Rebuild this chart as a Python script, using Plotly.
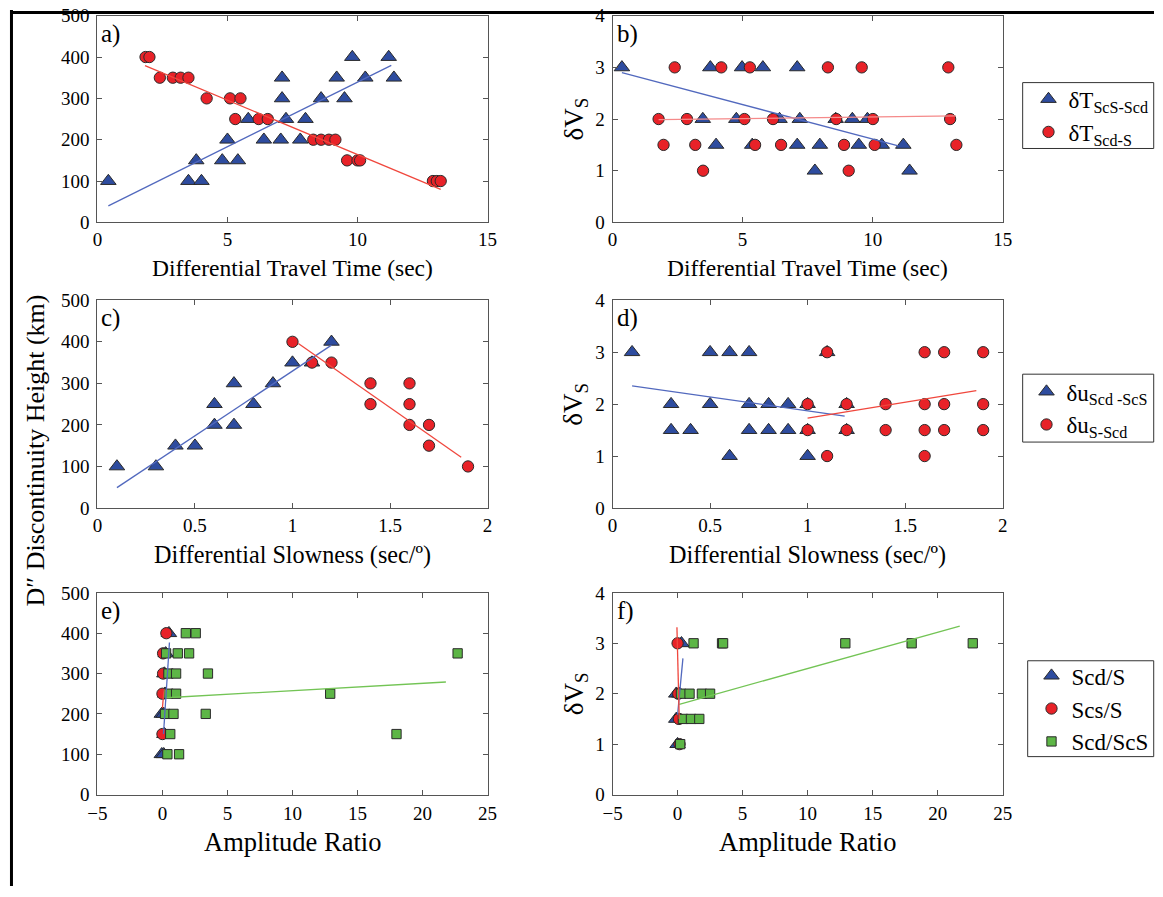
import plotly.graph_objects as go

W, H = 1163, 897
FONT = "Liberation Serif"

# ---------------- data ----------------
# a) height vs differential travel time
a_tri_x = [0.42, 3.5, 4.0, 3.8, 4.8, 5.4, 5.0, 5.8, 6.4, 7.05, 7.8, 7.25, 8.0, 7.1, 7.1, 8.6, 9.5, 9.2, 10.3, 11.4, 9.8, 11.2]
a_tri_y = [100, 100, 100, 150, 150, 150, 200, 250, 200, 200, 200, 250, 250, 300, 350, 300, 300, 350, 350, 350, 400, 400]
a_cir_x = [1.85, 2.0, 2.4, 2.9, 3.2, 3.5, 4.2, 5.1, 5.5, 5.3, 6.2, 6.55, 8.3, 8.6, 8.9, 9.15, 9.6, 10.0, 10.1, 12.9, 13.05, 13.2]
a_cir_y = [400, 400, 350, 350, 350, 350, 300, 300, 300, 250, 250, 250, 200, 200, 200, 200, 150, 150, 150, 100, 100, 100]
a_fit_tri_x = [0.42, 11.3]
a_fit_tri_y = [40, 380]
a_fit_cir_x = [1.83, 13.2]
a_fit_cir_y = [379, 80]

# b) dVs vs differential travel time
b_tri_x = [0.36, 3.76, 4.98, 5.78, 7.1, 3.47, 4.76, 6.42, 7.2, 8.58, 9.22, 9.8, 3.98, 5.37, 7.1, 7.97, 9.47, 10.35, 11.18, 7.78, 11.42]
b_tri_y = [3, 3, 3, 3, 3, 2, 2, 2, 2, 2, 2, 2, 1.5, 1.5, 1.5, 1.5, 1.5, 1.5, 1.5, 1, 1]
b_cir_x = [2.39, 4.18, 5.28, 8.28, 9.58, 12.91, 1.77, 2.86, 5.07, 6.17, 8.6, 10.01, 12.98, 1.96, 3.18, 5.48, 6.48, 8.9, 10.08, 13.22, 3.48, 9.08]
b_cir_y = [3, 3, 3, 3, 3, 3, 2, 2, 2, 2, 2, 2, 2, 1.5, 1.5, 1.5, 1.5, 1.5, 1.5, 1.5, 1, 1]
b_fit_tri_x = [0.36, 10.99]
b_fit_tri_y = [2.9, 1.48]
b_fit_cir_x = [1.77, 13.2]
b_fit_cir_y = [1.99, 2.06]

# c) height vs differential slowness
c_tri_x = [0.1, 0.3, 0.4, 0.5, 0.6, 0.6, 0.7, 0.7, 0.8, 0.9, 1.0, 1.1, 1.2]
c_tri_y = [100, 100, 150, 150, 200, 250, 200, 300, 250, 300, 350, 350, 400]
c_cir_x = [1.0, 1.1, 1.2, 1.4, 1.4, 1.6, 1.6, 1.6, 1.7, 1.7, 1.9]
c_cir_y = [400, 350, 350, 300, 250, 300, 250, 200, 200, 150, 100]
c_fit_tri_x = [0.1, 1.2]
c_fit_tri_y = [49, 392]
c_fit_cir_x = [1.03, 1.865]
c_fit_cir_y = [396, 122]

# d) dVs vs differential slowness
d_tri_x = [0.1, 0.5, 0.6, 0.7, 1.1, 0.3, 0.5, 0.7, 0.8, 0.9, 1.0, 1.2, 0.3, 0.4, 0.7, 0.8, 0.9, 1.0, 1.2, 0.6, 1.0]
d_tri_y = [3, 3, 3, 3, 3, 2, 2, 2, 2, 2, 2, 2, 1.5, 1.5, 1.5, 1.5, 1.5, 1.5, 1.5, 1, 1]
d_cir_x = [1.1, 1.6, 1.7, 1.9, 1.0, 1.2, 1.4, 1.6, 1.7, 1.9, 1.0, 1.2, 1.4, 1.6, 1.7, 1.9, 1.1, 1.6]
d_cir_y = [3, 3, 3, 3, 2, 2, 2, 2, 2, 2, 1.5, 1.5, 1.5, 1.5, 1.5, 1.5, 1, 1]
d_fit_tri_x = [0.1, 1.19]
d_fit_tri_y = [2.35, 1.77]
d_fit_cir_x = [1.0, 1.865]
d_fit_cir_y = [1.73, 2.26]

# e) height vs amplitude ratio
e_tri_x = [-0.05, 0.1, 0.15, -0.05, 0.1, 0.2, 0.15, 0.25, 0.5]
e_tri_y = [100, 100, 150, 200, 200, 250, 300, 350, 400]
e_cir_x = [0.0, 0.0, 0.05, 0.05, 0.3]
e_cir_y = [150, 250, 300, 350, 400]
e_sq_x = [1.8, 2.56, 0.28, 1.18, 2.05, 22.7, 0.46, 1.05, 3.5, 0.46, 1.05, 12.9, 0.2, 0.85, 3.33, 0.6, 18.0, 0.38, 1.28]
e_sq_y = [400, 400, 350, 350, 350, 350, 300, 300, 300, 250, 250, 250, 200, 200, 200, 150, 150, 100, 100]
e_fit_tri_x = [0.08, 0.54]
e_fit_tri_y = [150, 377]
e_fit_cir_x = [0.0, 0.12]
e_fit_cir_y = [215, 262]
e_fit_sq_x = [0.28, 21.8]
e_fit_sq_y = [240, 279]

# f) dVs vs amplitude ratio
f_tri_x = [0.3, -0.1, 0.15, -0.1, 0.0]
f_tri_y = [3, 2, 2, 1.5, 1]
f_cir_x = [0.0, 0.05, 0.1, 0.15]
f_cir_y = [3, 2, 1.5, 1]
f_sq_x = [1.23, 3.42, 3.5, 12.9, 18.0, 22.7, 0.26, 0.92, 1.87, 2.5, 0.41, 1.03, 1.67, 0.2]
f_sq_y = [3, 3, 3, 3, 3, 3, 2, 2, 2, 2, 1.5, 1.5, 1.5, 1]
f_fit_tri_x = [0.41, 0.0]
f_fit_tri_y = [2.7, 1.58]
f_fit_cir_x = [-0.05, 0.13]
f_fit_cir_y = [3.32, 1.5]
f_fit_sq_x = [0.13, 21.7]
f_fit_sq_y = [1.79, 3.34]

# ---------------- style ----------------
BLUE = "#2E4C9F"
RED = "#E82228"
GREEN = "#5DB646"
BLUE_L = "#5269BE"
RED_L = "#F0473D"
RED_LB = "#F58A8A"
GREEN_L = "#73C455"
EDGE = "#2A2A2A"

tri_m = dict(symbol="triangle-up", size=13.5, color=BLUE, line=dict(color=EDGE, width=1))
cir_m = dict(symbol="circle", size=11.3, color=RED, line=dict(color=EDGE, width=1))
sq_m = dict(symbol="square", size=9.3, color=GREEN, line=dict(color=EDGE, width=1))

fig = go.Figure()


def pts(x, y, ax, m, name, legend, show):
    fig.add_trace(go.Scatter(x=x, y=y, mode="markers", marker=m, name=name,
                             xaxis="x" + ax, yaxis="y" + ax, legend=legend,
                             showlegend=show, hoverinfo="skip"))


def line(x, y, ax, color):
    fig.add_trace(go.Scatter(x=x, y=y, mode="lines", line=dict(color=color, width=1.3),
                             xaxis="x" + ax, yaxis="y" + ax, showlegend=False, hoverinfo="skip"))


# a
pts(a_tri_x, a_tri_y, "", tri_m, "δT<sub>ScS-Scd</sub>", "legend", True)
pts(a_cir_x, a_cir_y, "", cir_m, "δT<sub>Scd-S</sub>", "legend", True)
line(a_fit_tri_x, a_fit_tri_y, "", BLUE_L)
line(a_fit_cir_x, a_fit_cir_y, "", RED_L)
# b
pts(b_tri_x, b_tri_y, "2", tri_m, "b1", "legend", False)
pts(b_cir_x, b_cir_y, "2", cir_m, "b2", "legend", False)
line(b_fit_tri_x, b_fit_tri_y, "2", BLUE_L)
line(b_fit_cir_x, b_fit_cir_y, "2", RED_LB)
# c
pts(c_tri_x, c_tri_y, "3", tri_m, "δu<sub>Scd -ScS</sub>", "legend2", True)
pts(c_cir_x, c_cir_y, "3", cir_m, "δu<sub>S-Scd</sub>", "legend2", True)
line(c_fit_tri_x, c_fit_tri_y, "3", BLUE_L)
line(c_fit_cir_x, c_fit_cir_y, "3", RED_L)
# d
pts(d_tri_x, d_tri_y, "4", tri_m, "d1", "legend2", False)
pts(d_cir_x, d_cir_y, "4", cir_m, "d2", "legend2", False)
line(d_fit_tri_x, d_fit_tri_y, "4", BLUE_L)
line(d_fit_cir_x, d_fit_cir_y, "4", RED_L)
# e
pts(e_tri_x, e_tri_y, "5", tri_m, "Scd/S", "legend3", True)
pts(e_cir_x, e_cir_y, "5", cir_m, "Scs/S", "legend3", True)
pts(e_sq_x, e_sq_y, "5", sq_m, "Scd/ScS", "legend3", True)
line(e_fit_sq_x, e_fit_sq_y, "5", GREEN_L)
line(e_fit_tri_x, e_fit_tri_y, "5", BLUE_L)
line(e_fit_cir_x, e_fit_cir_y, "5", RED_L)
# f
pts(f_tri_x, f_tri_y, "6", tri_m, "f1", "legend3", False)
pts(f_cir_x, f_cir_y, "6", cir_m, "f2", "legend3", False)
pts(f_sq_x, f_sq_y, "6", sq_m, "f3", "legend3", False)
line(f_fit_sq_x, f_fit_sq_y, "6", GREEN_L)
line(f_fit_tri_x, f_fit_tri_y, "6", BLUE_L)
line(f_fit_cir_x, f_fit_cir_y, "6", RED_L)


# ---------------- layout ----------------
# target positions are given in the reference picture's pixels; the viewer insets the page slightly
def fx(r):
    return ((r - 9.6) / 0.9834) / W


def fy(r):
    return 1 - ((r - 9.3) / 0.978) / H


cols = [(97, 487), (612, 1002)]
rows = [(15, 222), (300, 508), (593, 795)]
xranges = [[0, 15], [0, 15], [0, 2], [0, 2], [-5, 25], [-5, 25]]
xdticks = [5, 5, 0.5, 0.5, 5, 5]
yranges = [[0, 500], [0, 4], [0, 500], [0, 4], [0, 500], [0, 4]]
ydticks = [100, 1, 100, 1, 100, 1]
labels = ["a)", "b)", "c)", "d)", "e)", "f)"]

axis_common = dict(showgrid=False, zeroline=False, showline=True, linecolor="#555555", linewidth=1,
                   mirror="ticks", ticks="inside", ticklen=5, tickcolor="#555555",
                   tickfont=dict(family=FONT, size=19, color="black"))

lay = {}
ann = []
for i in range(6):
    r, c = divmod(i, 2)
    suf = "" if i == 0 else str(i + 1)
    x0, x1 = cols[c]
    y0, y1 = rows[r]
    lay["xaxis" + suf] = dict(axis_common, domain=[fx(x0), fx(x1)], range=xranges[i], dtick=xdticks[i],
                              tick0=0, anchor="y" + suf, ticklabelstandoff=2 if r == 2 else 0)
    lay["yaxis" + suf] = dict(axis_common, domain=[fy(y1), fy(y0)], range=yranges[i], dtick=ydticks[i],
                              tick0=0, anchor="x" + suf, ticklabelstandoff=3)
    ann.append(dict(text=labels[i], xref="x" + suf + " domain", yref="y" + suf + " domain", x=0.005, y=0.99,
                    xanchor="left", yanchor="top", showarrow=False, font=dict(family=FONT, size=25, color="black")))

xtitles = ["Differential Travel Time (sec)", "Differential Slowness (sec/º)", "Amplitude Ratio"]
xt_size = [23.5, 24.2, 26.5]
xt_y = [268, 555, 843]
for r in range(3):
    for c in range(2):
        ann.append(dict(text=xtitles[r], xref="paper", yref="paper", x=fx((cols[c][0] + cols[c][1]) / 2),
                        y=fy(xt_y[r]), xanchor="center", yanchor="middle", showarrow=False,
                        font=dict(family=FONT, size=xt_size[r], color="black")))
    ann.append(dict(text="δV<sub>S</sub>", xref="paper", yref="paper", x=fx(575),
                    y=fy((rows[r][0] + rows[r][1]) / 2), xanchor="center", yanchor="middle",
                    textangle=-90, showarrow=False, font=dict(family=FONT, size=27, color="black")))
ann.append(dict(text="D″ Discontinuity Height (km)", xref="paper", yref="paper", x=fx(35), y=fy(450),
                xanchor="center", yanchor="middle", textangle=-90, showarrow=False,
                font=dict(family=FONT, size=26, color="black")))

leg_common = dict(xanchor="left", yanchor="middle", borderwidth=0, bgcolor="rgba(0,0,0,0)",
                  font=dict(family=FONT, size=23, color="black"), itemsizing="trace", tracegroupgap=0)

# legend frames (reference pixels)
boxes = [(1022, 82, 1153, 148), (1022, 374, 1153, 442), (1027, 661, 1153, 757)]
shapes = [
    dict(type="line", xref="paper", yref="paper", x0=0, x1=1.0, y0=1 - 2.5 / H, y1=1 - 2.5 / H,
         line=dict(color="black", width=3)),
    dict(type="line", xref="paper", yref="paper", x0=1.5 / W, x1=1.5 / W, y0=1, y1=0,
         line=dict(color="black", width=3)),
]
for (bx0, by0, bx1, by1) in boxes:
    shapes.append(dict(type="rect", xref="paper", yref="paper", x0=fx(bx0), x1=fx(bx1), y0=fy(by1), y1=fy(by0),
                       line=dict(color="#333333", width=1), fillcolor="rgba(0,0,0,0)"))

fig.update_layout(
    width=W, height=H, margin=dict(l=0, r=0, t=0, b=0),
    paper_bgcolor="white", plot_bgcolor="white",
    annotations=ann,
    legend=dict(leg_common, x=fx(1047) - 19.5 / W, y=fy(115)),
    legend2=dict(leg_common, x=fx(1045) - 19.5 / W, y=fy(408)),
    legend3=dict(leg_common, x=fx(1050) - 19.5 / W, y=fy(709)),
    shapes=shapes,
    **lay,
)

fig.write_html("out.html", config={"displayModeBar": False},
               post_script="document.body.style.margin='0px';")
